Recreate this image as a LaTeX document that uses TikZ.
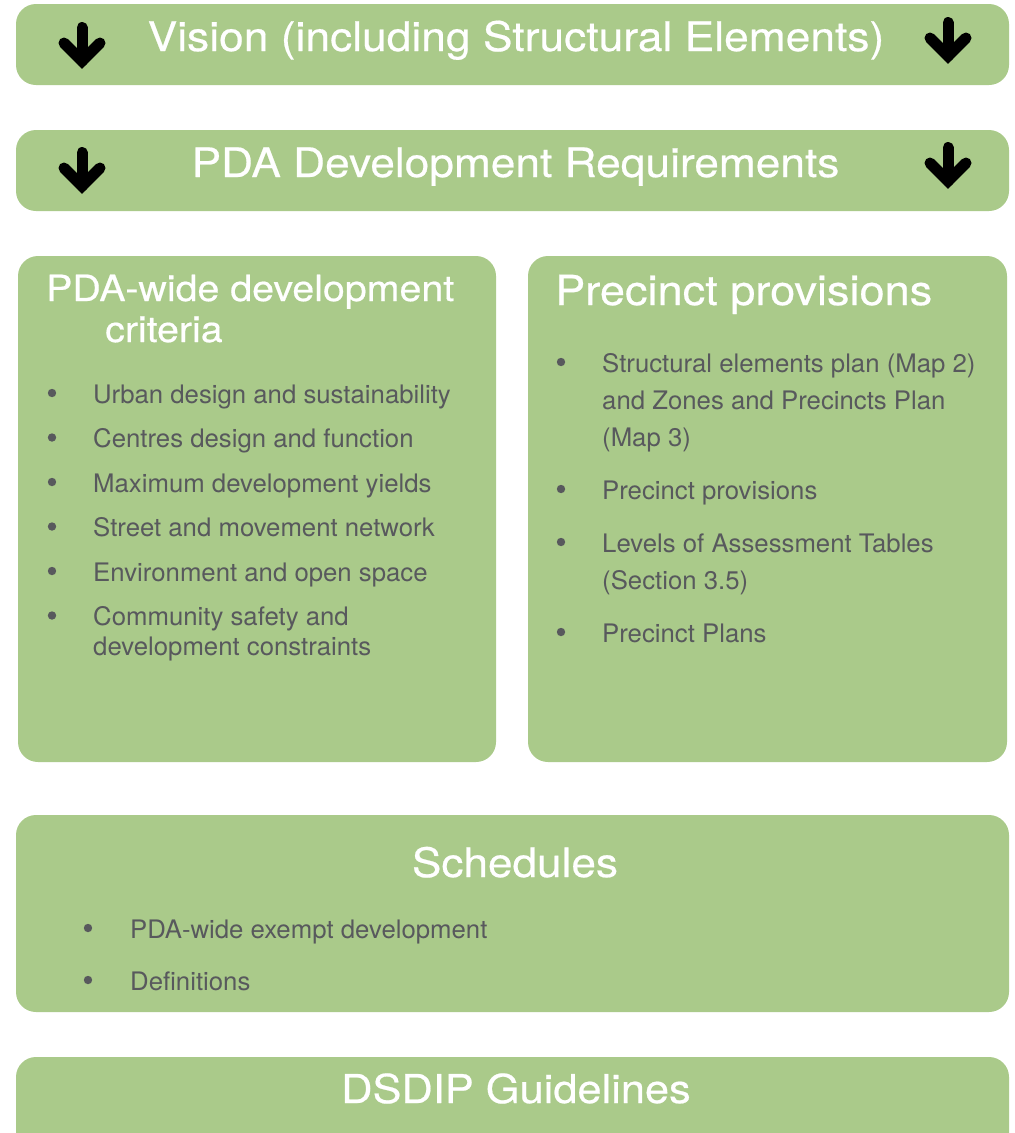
\documentclass[tikz,border=0pt]{standalone}
\usepackage{fontspec}
\setmainfont[FakeStretch=1.01]{TeX Gyre Heros}
\newfontfamily\titlefont[FakeStretch=1.09,FakeBold=0.5]{TeX Gyre Heros}
\definecolor{boxgreen}{RGB}{170,202,138}
\definecolor{bodygray}{RGB}{88,89,93}
\tikzset{
  greenbox/.style={fill=boxgreen, draw=none, rounded corners=20pt, inner sep=0pt},
  ttl/.style={text=white, inner sep=0pt, font=\titlefont\fontsize{#1}{#1}\selectfont},
  itm/.style={text=bodygray, inner sep=0pt, anchor=base west, font=\fontsize{25.5}{30}\selectfont},
  bul/.style={fill=bodygray},
  downarrow/.style={line width=11pt, line cap=round, line join=miter, draw=black}
}
\begin{document}
\begin{tikzpicture}[x=1pt,y=-1pt]
\useasboundingbox (0,0) rectangle (1015,1133);
\clip (0,0) rectangle (1015,1133);
% boxes
\node[greenbox, minimum width=993pt, minimum height=81pt] (vision) at (512.5,44.5) {};
\node[greenbox, minimum width=993pt, minimum height=81pt] (pdareq) at (512.5,170.5) {};
\node[greenbox, minimum width=478pt, minimum height=506pt] (wide) at (257,509) {};
\node[greenbox, minimum width=479pt, minimum height=506pt] (prec) at (767.5,509) {};
\node[greenbox, minimum width=993pt, minimum height=197pt] (sched) at (512.5,913.5) {};
\node[greenbox, minimum width=993pt, minimum height=103pt] (dsdip) at (512.5,1108.5) {};
% titles
\node[ttl=40.7, anchor=base] (tvision) at (516,51) {Vision (including Structural Elements)};
\node[ttl=40.6, anchor=base] (tpdareq) at (515.5,177) {PDA Development Requirements};
\node[ttl=36.1, anchor=base west] (twide1) at (46,301) {PDA-wide development};
\node[ttl=36.1, anchor=base west] (twide2) at (105,342) {criteria};
\node[ttl=41.4, anchor=base west] (tprec) at (555,305) {Precinct provisions};
\node[ttl=40.5, anchor=base] (tsched) at (515,877) {Schedules};
\node[ttl=39.8, anchor=base] (tdsdip) at (516,1103) {DSDIP Guidelines};
% arrows
\draw[downarrow] (82,27.5) -- (82,61);
\draw[downarrow] (64,43) -- (82,61) -- (100,43);
\draw[downarrow] (948,22.5) -- (948,56);
\draw[downarrow] (930,38) -- (948,56) -- (966,38);
\draw[downarrow] (82,152.5) -- (82,186);
\draw[downarrow] (64,168) -- (82,186) -- (100,168);
\draw[downarrow] (948,147.5) -- (948,181);
\draw[downarrow] (930,163) -- (948,181) -- (966,163);
% left list
\foreach \y in {403,447.5,492,536.5,581,625.5} \fill[bul] (52,\y-10) circle (4.2);
\node[itm] (w1) at (93,403) {Urban design and sustainability};
\node[itm] (w2) at (93,447.5) {Centres design and function};
\node[itm] (w3) at (93,492) {Maximum development yields};
\node[itm] (w4) at (93,536.5) {Street and movement network};
\node[itm] (w5) at (93,581) {Environment and open space};
\node[itm] (w6a) at (93,625.5) {Community safety and};
\node[itm] (w6b) at (93,655) {development constraints};
% right list
\foreach \y in {372,499,552,642} \fill[bul] (561,\y-10) circle (4.2);
\node[itm] (p1a) at (602,372) {Structural elements plan (Map 2)};
\node[itm] (p1b) at (602,409) {and Zones and Precincts Plan};
\node[itm] (p1c) at (602,446) {(Map 3)};
\node[itm] (p2) at (602,499) {Precinct provisions};
\node[itm] (p3a) at (602,552) {Levels of Assessment Tables};
\node[itm] (p3b) at (602,589) {(Section 3.5)};
\node[itm] (p4) at (602,642) {Precinct Plans};
% schedules list
\foreach \y in {938,990} \fill[bul] (88,\y-10) circle (4.2);
\node[itm] (s1) at (130,938) {PDA-wide exempt development};
\node[itm] (s2) at (130,990) {Definitions};
\end{tikzpicture}
\end{document}
